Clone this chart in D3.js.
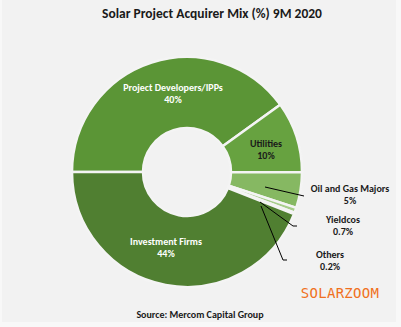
<!DOCTYPE html>
<html><head><meta charset="utf-8">
<script src="https://cdn.jsdelivr.net/npm/d3@7"></script>
<style>body{margin:0;background:#fff}svg{display:block}text{font-family:Carlito,Calibri,Lato,"Open Sans",sans-serif}</style>
</head><body>
<svg id="c" width="401" height="327"></svg>
<script>
const categories = ["Project Developers/IPPs","Utilities","Oil and Gas Majors","Yieldcos","Others","Investment Firms"];
const values = [40,10,5,0.7,0.2,44];
const valueLabels = ["40%","10%","5%","0.7%","0.2%","44%"];
const colors = ["#5b9536","#67a240","#86b862","#a6cd8a","#c5dfb2","#507f31"];

const svg = d3.select("#c");
svg.append("rect").attr("width",401).attr("height",327).attr("fill","#f8f8f8");
svg.append("rect").attr("x",2).attr("width",394).attr("height",322).attr("fill","#f2f2f2");

svg.append("text").attr("x",212).attr("y",18).attr("text-anchor","middle")
  .attr("font-weight","bold").attr("font-size",13.5).attr("fill","#1a1a1a")
  .text("Solar Project Acquirer Mix (%) 9M 2020");

const cx=187, cy=172, R=115, r=44;
const pie = d3.pie().sort(null).value(d=>d.v).startAngle(-Math.PI/2).endAngle(1.5*Math.PI);
const data = categories.map((c,i)=>({c,v:values[i],l:valueLabels[i],col:colors[i]}));
const arcs = pie(data);
const arc = d3.arc().innerRadius(r).outerRadius(R);
const g = svg.append("g").attr("transform",`translate(${cx},${cy})`);
g.selectAll("path").data(arcs).join("path").attr("d",arc)
  .attr("fill",d=>d.data.col).attr("stroke","#f4f4f4").attr("stroke-width",2.5);

// inside labels
const inside = {"Project Developers/IPPs":{dx:-14,dy:-81,c:"#fff"},"Investment Firms":{dx:-21,dy:73,c:"#fff"},"Utilities":{dx:79,dy:-25,c:"#1a1a1a"}};
arcs.filter(d=>inside[d.data.c]).forEach(d=>{
  const p=inside[d.data.c];
  const t=g.append("text").attr("text-anchor","middle").attr("font-weight","bold").attr("font-size",10).attr("fill",p.c);
  t.append("tspan").attr("x",p.dx).attr("y",p.dy).text(d.data.c);
  t.append("tspan").attr("x",p.dx).attr("y",p.dy+12).text(d.data.l);
});

// outside labels with leaders
const outside = {
  "Oil and Gas Majors":{lx:350,ly:192,pts:[[265,187],[304,196]]},
  "Yieldcos":{lx:343,ly:223,pts:[[260,202],[293,226],[297,226]]},
  "Others":{lx:330,ly:258,pts:[[261,206],[283,260],[287,260]]}
};
arcs.filter(d=>outside[d.data.c]).forEach(d=>{
  const p=outside[d.data.c];
  svg.append("path").attr("d",d3.line()(p.pts)).attr("fill","none").attr("stroke","#000").attr("stroke-width",1);
  const t=svg.append("text").attr("text-anchor","middle").attr("font-weight","bold").attr("font-size",10).attr("fill","#1a1a1a");
  t.append("tspan").attr("x",p.lx).attr("y",p.ly).text(d.data.c);
  t.append("tspan").attr("x",p.lx).attr("y",p.ly+12).text(d.data.l);
});

svg.append("text").attr("x",340).attr("y",298).attr("text-anchor","middle")
  .style("font-family","'DejaVu Sans Mono','Liberation Mono',monospace").attr("font-size",14).attr("letter-spacing",0.3)
  .attr("fill","#f07020").text("SOLARZOOM");

svg.append("text").attr("x",200).attr("y",318).attr("text-anchor","middle")
  .attr("font-weight","bold").attr("font-size",10).attr("fill","#1a1a1a")
  .text("Source: Mercom Capital Group");
</script>
</body></html>
